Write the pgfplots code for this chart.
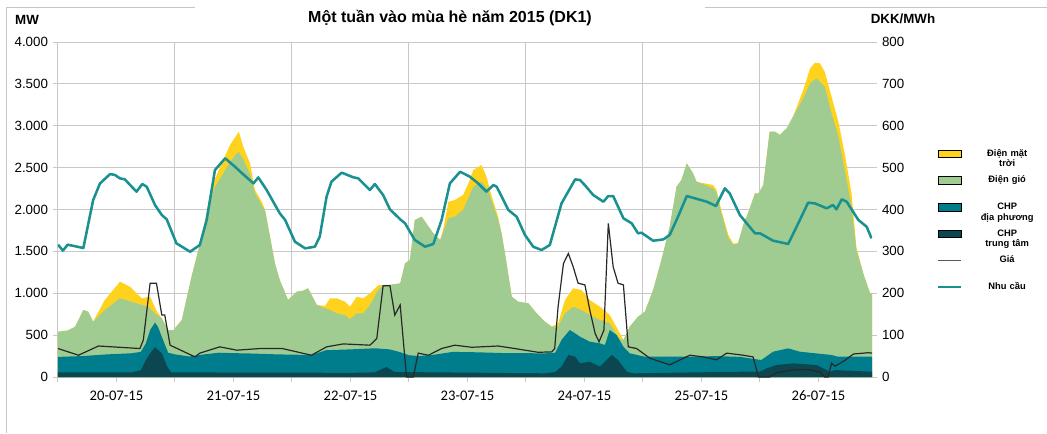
\documentclass[border=0pt]{standalone}
\usepackage{fontspec}
\setmainfont{Liberation Sans}
\newfontfamily\carlito{Carlito}
\usepackage{pgfplots}
\pgfplotsset{compat=1.18}

\definecolor{solar}{RGB}{255,210,30}
\definecolor{wind}{RGB}{160,204,145}
\definecolor{chplocal}{RGB}{0,125,140}
\definecolor{chpcentral}{RGB}{12,70,80}
\definecolor{demand}{RGB}{25,145,145}
\definecolor{price}{RGB}{40,40,40}
\definecolor{gridc}{RGB}{200,200,200}

\pgfplotsset{
  /pgf/number format/assume math mode=true,
  /pgf/number format/1000 sep={.},
  chart/.style={
    at={(43.5pt,42pt)}, anchor=south west,
    scale only axis, width=610.5pt, height=251.25pt,
    xmin=0, xmax=167,
    tick align=outside, major tick length=4pt,
    tick style={gridc, line width=0.75pt},
    axis line style={gridc, line width=0.75pt},
    ticklabel style={font=\fontsize{10}{12}\selectfont},
  },
}

% hours since 20-07-15 00:00, cumulative MW (top edge of each layer)
\pgfplotstableread{
h mw
0 540
2 555
3.5 600
5.2 800
6.2 780
7.2 660
9.6 919
12.7 1138
14.8 1078
17.2 939
18.9 960
20.2 790
21.3 700
22.6 561
23.7 561
25.4 680
27.4 1198
29.5 1675
31.5 2272
33.6 2550
35.3 2770
37.1 2929
38 2750
39.4 2551
40.4 2233
41.8 2093
42.5 1994
43.5 1675
44.5 1357
45.5 1158
47.2 919
49 1019
50.3 1031
51.3 1059
53.1 860
54.8 848
55.8 939
57.2 939
58.9 899
59.9 839
61.3 959
62.6 939
64 999
65.7 1098
66.7 1098
68 1100
70.2 1118
71.2 1357
72.2 1397
73.2 1875
74.6 1914
77 1716
78.4 1636
79 1755
80.1 2093
81.4 2113
83.1 2173
84.2 2312
85.2 2472
86.9 2531
87.9 2392
89 2153
90.3 1914
91 1716
91.7 1477
93.1 959
94.4 899
96.5 880
98.2 760
99.9 660
101.3 601
102.6 640
104 919
105.7 1059
107.4 1039
109.1 919
111.2 839
113.2 740
114.9 561
116 442
117.3 601
119 720
120.4 780
122.1 1039
123.8 1397
125.5 1795
126.9 2272
127.9 2352
129 2551
130.3 2431
131 2332
134.4 2292
135.1 2233
136.1 1990
137.5 1700
138.5 1596
139.5 1596
140.9 1875
141.3 1914
143 2193
143.7 2193
144.7 2292
146 2929
147.1 2929
148.1 2890
149.5 2969
150.8 3109
152.9 3427
154.3 3686
155.3 3753
156.3 3746
157.3 3646
158.7 3347
160.1 3048
161.4 2670
162.8 2193
163.8 1550
165.2 1238
166.6 999
167 990
}\solartop

\pgfplotstableread{
h mw
0 540
2 555
3.5 600
5.2 800
6.2 780
7.2 660
9.6 800
12.7 939
15.1 899
17.2 860
18.5 840
19.9 760
21.3 700
22.6 561
23.7 561
25.4 680
27.4 1198
29.5 1675
31.5 2150
32.2 2272
33.6 2400
35.3 2571
37 2690
38 2600
39.4 2420
40.4 2200
41.8 2050
42.5 1980
43.5 1675
44.5 1357
45.5 1158
47.2 919
49 1019
50.3 1031
51.3 1059
53.1 860
54.8 820
55.8 800
57.2 760
58.9 740
59.9 689
61.3 760
62.6 760
64 860
65.7 1039
66.7 1098
68 1100
70.2 1118
71.2 1357
72.2 1397
73.2 1875
74.6 1914
77 1716
78.4 1636
80.1 1895
81.4 1914
83.1 1994
85.2 2272
86.9 2332
88.2 2233
90.3 1875
91 1716
91.7 1477
93.1 959
94.4 899
96.5 880
98.2 760
99.9 660
101.3 601
102.6 601
104 760
105.7 839
107.4 800
109.1 740
111.2 680
113.2 640
115.3 450
116 442
117.3 601
119 720
120.4 780
122.1 1039
123.8 1397
125.5 1795
126.9 2272
127.9 2352
129 2551
130.3 2431
131 2332
134.4 2253
135.1 2200
136.1 1954
137.5 1660
138.5 1580
139.5 1596
140.9 1875
141.3 1914
143 2193
143.7 2193
144.7 2292
146 2929
147.1 2929
148.1 2890
149.5 2969
150.8 3109
152.9 3327
154.3 3507
155.6 3566
157.3 3467
158.7 3148
160.1 2870
161.4 2472
162.8 2034
163.8 1516
165.2 1238
166.6 999
167 990
}\windtop

\pgfplotstableread{
h mw
0 240
5 250
10 270
15 283
17 300
18 400
18.9 560
19.9 650
20.5 600
21.3 480
22.6 290
24 270
27 245
30 270
33 290
36 285
40 280
45 270
52 263
55 320
60 330
65 343
68 330
70 300
72 260
74 250
77 265
81 300
86 295
92 285
100 283
102 290
103.3 442
105 561
106.1 521
107.1 481
109.1 422
111.2 402
112.2 382
113.2 561
114.6 501
116 362
117.3 283
120.4 242
130 242
135 250
140 240
142 222
144.3 203
146.7 302
149.8 342
152.2 302
158.7 263
160 242
167 242
}\localtop

\pgfplotstableread{
h mw
0 55
15 55
17 80
18 200
18.9 283
19.9 355
21.3 283
22.4 123
23.2 55
60 50
65 55
67.4 120
69 60
100 44
102 60
103.3 123
104.7 263
106.1 242
107.1 163
109.1 183
111.2 123
113.6 263
114.9 203
116.7 63
118 44
140 63
144 63
145.4 103
147.4 143
150.8 163
155.6 143
158.4 63
159.4 83
167 63
}\centraltop

\pgfplotstableread{
h mw
0 1580
1 1510
2 1580
5.2 1540
7.2 2110
8.6 2310
10.7 2424
11.7 2412
12.7 2372
13.7 2360
16.1 2213
17.3 2304
18.2 2272
19.9 2054
21.3 1934
22.3 1883
24.3 1596
27.1 1496
29.1 1576
30.5 1875
32.2 2472
34.3 2611
36.3 2511
38 2420
40.1 2312
41.1 2383
42.8 2233
45.5 1954
46.6 1875
48.6 1616
50.7 1536
52.7 1556
53.7 1675
55.1 2153
56.1 2332
58.2 2440
60.6 2384
61.6 2372
64 2233
65 2304
66.7 2173
68.1 2002
70.2 1883
71.2 1835
73.2 1636
75.3 1556
77 1588
78.7 1875
80.4 2312
82.5 2451
84.5 2392
86.2 2312
87.9 2213
89.3 2292
90 2272
92.4 1994
94.1 1914
95.8 1696
97.5 1556
99.2 1516
100.9 1576
103.3 2073
106.1 2360
107.1 2352
108.1 2290
109.8 2173
111.9 2093
112.9 2161
113.9 2161
116 1895
117.7 1835
119 1716
119.7 1723
122.1 1627
124.2 1643
125.5 1696
127.2 1914
129 2161
130.7 2133
133.1 2093
135 2042
136.8 2253
137.8 2193
139.9 1934
141.3 1834
143 1716
144 1716
146.7 1628
149.8 1588
152.2 1875
153.9 2082
155.3 2073
157.7 2014
159 2054
159.7 2002
160.8 2121
161.8 2093
164.2 1875
165.9 1795
166.9 1656
}\demand

\pgfplotstableread{
h dkk
0 68
4.2 52
8.3 74
16.8 68
17.5 88
18.9 224
20.2 224
21.3 148
21.9 148
23 76
28.1 48
29.1 57
33.2 72
36.7 64
41.4 68
46 68
52 52
55.1 72
58.5 79
64 76
65.4 92
66.7 218
68.1 218
69.1 148
70.2 172
71.5 0
72.9 0
73.9 57
76 52
78.7 68
81.4 76
84.9 71
90.3 74
93.7 68
98.5 59
101.3 60
101.9 68
102.6 168
103.7 271
104.7 295
105.7 263
106.7 224
108.1 220
109.1 160
110.2 104
111 84
112 112
112.9 367
113.9 263
114.9 224
116 220
117 72
118.7 68
121.4 45
125.5 29
129.6 52
132.4 48
135.1 41
137.2 57
140.6 52
142.6 48
143.7 0
146 0
147.4 10
150.8 17
153.9 18
156.3 12
157.3 0
158 0
158.7 33
159.4 26
161.1 37
163.2 55
166.3 58
167 57
}\price

\begin{document}
\begin{tikzpicture}[x=0.75pt,y=0.75pt]
\path[use as bounding box] (0,0) rectangle (1047,433);
% outer frame pieces
\draw[gray!45, line width=0.75pt] (195,425) -- (6,425) -- (6,0);
\draw[gray!45, line width=0.75pt] (705,425) -- (1047,425);

\node[font=\bfseries\fontsize{12}{14}\selectfont] at (450,415) {Một tuần vào mùa hè năm 2015 (DK1)};
\node[font=\bfseries\fontsize{10}{12}\selectfont] at (27,413) {MW};
\node[font=\bfseries\fontsize{10}{12}\selectfont] at (903,414) {DKK/MWh};

\begin{axis}[chart,
    ymin=0, ymax=4000,
    axis x line*=bottom, axis y line*=left,
    ytick={0,500,...,4000},
    xtick={0,24,...,144},
    xticklabels={},
    xmajorgrids, ymajorgrids,
    grid style={gridc, line width=0.75pt},
    extra x ticks={12,36,...,156},
    extra x tick labels={20-07-15,21-07-15,22-07-15,23-07-15,24-07-15,25-07-15,26-07-15},
    extra x tick style={grid=none, tick label style={font=\carlito\fontsize{11}{13}\selectfont, yshift=-3pt}},
  ]
  \addplot[fill=solar, draw=none] table[x=h, y=mw] {\solartop} \closedcycle;
  \addplot[fill=wind, draw=none] table[x=h, y=mw] {\windtop} \closedcycle;
  \addplot[fill=chplocal, draw=none] table[x=h, y=mw] {\localtop} \closedcycle;
  \addplot[fill=chpcentral, draw=none] table[x=h, y=mw] {\centraltop} \closedcycle;
  \addplot[demand, line width=1.9pt, line join=round] table[x=h, y=mw] {\demand};
\end{axis}

\begin{axis}[chart,
    ymin=0, ymax=800,
    axis x line=none, axis y line*=right,
    axis line style={draw=none},
    ytick={0,100,...,800},
    legend style={at={(1.075,0.715)}, anchor=north west, draw=none, fill=none,
      font=\bfseries\fontsize{7}{8}\selectfont,
      nodes={minimum height=20pt, inner sep=1pt},
      /tikz/every even column/.append style={text width=58pt, align=center},
      column sep=4pt},
    legend cell align=center,
  ]
  \addplot[price, line width=0.9pt, forget plot] table[x=h, y=dkk] {\price};
  \addlegendimage{area legend, fill=solar, draw=none}
  \addlegendentry{Điện mặt\\trời}
  \addlegendimage{area legend, fill=wind, draw=none}
  \addlegendentry{Điện gió}
  \addlegendimage{area legend, fill=chplocal, draw=none}
  \addlegendentry{CHP\\địa phương}
  \addlegendimage{area legend, fill=chpcentral, draw=none}
  \addlegendentry{CHP\\trung tâm}
  \addlegendimage{line legend, gray!70!black, line width=1pt}
  \addlegendentry{Giá}
  \addlegendimage{line legend, demand, line width=1.3pt}
  \addlegendentry{Nhu cầu}
\end{axis}
\end{tikzpicture}
\end{document}
